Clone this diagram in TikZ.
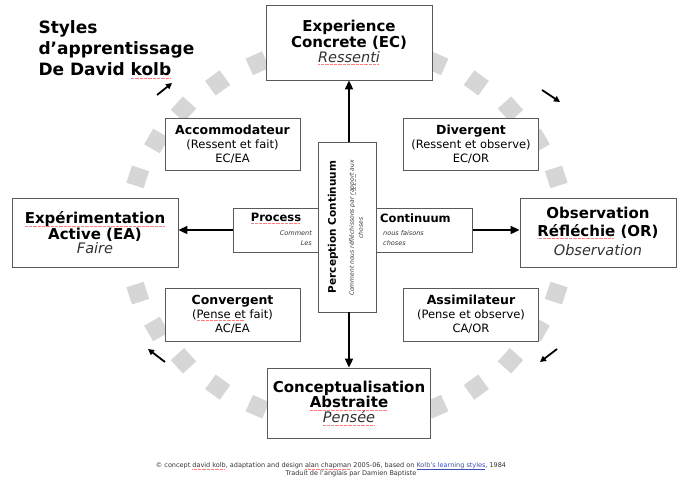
\documentclass[tikz,border=0pt]{standalone}
\usepackage{fontspec}
\setmainfont{DejaVu Sans}
\usetikzlibrary{arrows.meta}
\definecolor{boxgray}{HTML}{5A5A5A}
\definecolor{ringgray}{HTML}{D6D6D6}
\definecolor{subgray}{HTML}{333333}
\definecolor{linkblue}{HTML}{3A4FB0}
\newcommand\spell[1]{{\setbox0\hbox{#1}\rlap{\raisebox{-0.32ex}{\textcolor{red!50}{\hbox to\wd0{\leaders\hbox{\rule{0.9pt}{0.4pt}\kern0.4pt}\hfill}}}}\box0}}
\newcommand\linkul[1]{{\setbox0\hbox{#1}\rlap{\raisebox{-0.32ex}{\textcolor{linkblue}{\rule{\wd0}{0.4pt}}}}\box0}}
\newcommand\fs[2]{\fontsize{#1}{#2}\selectfont}
\begin{document}
\begin{tikzpicture}[x=1pt,y=-1pt,
  bigbox/.style={draw=boxgray,fill=white,line width=0.9pt,align=center,inner sep=0pt},
  smallbox/.style={draw=boxgray,fill=white,line width=0.9pt,align=center,inner sep=0pt,
     minimum width=135pt,minimum height=52pt,font=\fs{11.5}{14}},
  tile/.style={fill=ringgray,minimum size=18pt,inner sep=0pt},
  bigarrow/.style={line width=2pt,-{Triangle[length=9pt,width=8pt]}},
  tinyarrow/.style={line width=1.8pt,-{Triangle[length=6pt,width=6pt]}}]
\useasboundingbox (0,0) rectangle (684,477);
\fill[white] (0,0) rectangle (684,477);
% ring of tiles
\foreach \i in {0,...,29}{
  \pgfmathsetmacro{\t}{6+12*\i}
  \node[tile,rotate=\t] (tile\i) at ({347+220*cos(\t)},{235-188*sin(\t)}) {};
}
% title
\node[anchor=base west,font=\fs{17}{20}\bfseries] (t1) at (35,33) {Styles};
\node[anchor=base west,font=\fs{17}{20}\bfseries] (t2) at (35,54) {d’apprentissage};
\node[anchor=base west,font=\fs{17}{20}\bfseries] (t3) at (35,75) {De David \spell{kolb}};
% big boxes
\node[bigbox,minimum width=166pt,minimum height=75pt] (ec) at (349,42.5)
 {\fs{15}{17.5}\bfseries Experience\\ \fs{15}{17.5}\bfseries Concrete (EC)\\[1pt] \fs{14.5}{17}\itshape\color{subgray}\spell{Ressenti}};
\node[bigbox,minimum width=166pt,minimum height=69pt] (ea) at (95,232.5)
 {\fs{15}{19}\bfseries \spell{Expérimentation}\\ \fs{15}{19}\bfseries Active (EA)\\[0pt] \fs{14.5}{17}\itshape\color{subgray}Faire};
\node[bigbox,minimum width=156pt,minimum height=69pt] (or) at (598,232.5) {};
\node[font=\fs{15}{18}\bfseries,inner sep=0pt] (or1) at (598,213) {Observation};
\node[font=\fs{15}{18}\bfseries,inner sep=0pt] (or2) at (598,231.5) {\spell{Réfléchie} (OR)};
\node[font=\fs{14.5}{17}\itshape,text=subgray,inner sep=0pt] (or3) at (598,250) {Observation};
\node[bigbox,minimum width=163pt,minimum height=70pt] (ac) at (349,403)
 {\fs{15}{20}\bfseries Conceptualisation\\ \fs{15}{20}\bfseries \spell{Abstraite}\\[0pt] \fs{14.5}{19}\itshape\color{subgray}\spell{Pensée}};
% small boxes
\node[smallbox] (acc) at (232.5,144) {{\fs{12.5}{14}\bfseries Accommodateur}\\ (Ressent et fait)\\ EC/EA};
\node[smallbox] (div) at (471,144) {{\fs{12.5}{14}\bfseries Divergent}\\ (Ressent et observe)\\ EC/OR};
\node[smallbox,minimum height=53pt] (con) at (232.5,314.5) {{\fs{12.5}{14}\bfseries Convergent}\\ (\spell{Pense et} fait)\\ AC/EA};
\node[smallbox,minimum height=53pt] (ass) at (471,314.5) {{\fs{12.5}{14}\bfseries Assimilateur}\\ (Pense et observe)\\ CA/OR};
% process / continuum boxes
\node[bigbox,minimum width=85pt,minimum height=44pt] (proc) at (275.5,230) {};
\node[bigbox,minimum width=97pt,minimum height=44pt] (cont) at (424,230) {};
\node[bigbox,minimum width=58pt,minimum height=170pt] (pc) at (347.5,227) {};
\node[font=\fs{11.5}{13}\bfseries,inner sep=0pt] (proct) at (276,218) {\spell{Process}};
\node[anchor=east,font=\fs{6.5}{10}\itshape,text=subgray,align=right,inner sep=0pt] (procs) at (312,238) {Comment\\ Les};
\node[anchor=west,font=\fs{11.5}{13}\bfseries,inner sep=0pt] (contt) at (380,218) {Continuum};
\node[anchor=west,font=\fs{6.5}{10}\itshape,text=subgray,align=left,inner sep=0pt] (conts) at (383,238) {nous faisons\\ choses};
\node[rotate=90,font=\fs{10.5}{12}\bfseries,inner sep=0pt] (pct) at (333,227) {Perception Continuum};
\node[rotate=90,font=\fs{6}{9}\itshape,text=subgray,align=center,inner sep=0pt] (pcs) at (356,228)
 {Comment nous réfléchissons par \spell{rapport} aux\\ choses};
% main arrows
\draw[bigarrow] (pc.north -| ec.south) -- (ec.south);
\draw[bigarrow] (pc.south -| ac.north) -- (ac.north);
\draw[bigarrow] (proc.west) -- (proc.west -| ea.east);
\draw[bigarrow] (cont.east) -- (cont.east -| or.west);
% small cycle arrows
\coordinate (nea) at (157,95); \coordinate (neb) at (172,83);
\coordinate (sea) at (542,90); \coordinate (seb) at (560,102);
\coordinate (swa) at (557,349); \coordinate (swb) at (540,362);
\coordinate (nwa) at (165,362); \coordinate (nwb) at (148,349);
\draw[tinyarrow] (nea) -- (neb);
\draw[tinyarrow] (sea) -- (seb);
\draw[tinyarrow] (swa) -- (swb);
\draw[tinyarrow] (nwa) -- (nwb);
% footer
\node[font=\fs{6.5}{8},text=subgray,inner sep=0pt] (foot1) at (331,466)
 {© concept \spell{david kolb}, adaptation and design \spell{alan chapman} 2005-06, based on \textcolor{linkblue}{\linkul{Kolb’s learning styles}}, 1984};
\node[font=\fs{6.5}{8},text=subgray,inner sep=0pt] (foot2) at (351,473.5)
 {Traduit de l’anglais par Damien Baptiste};
\end{tikzpicture}
\end{document}
